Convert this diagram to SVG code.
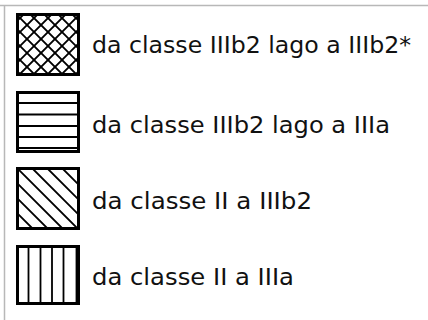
<svg xmlns="http://www.w3.org/2000/svg" width="428" height="320" viewBox="0 0 428 320">
<style>
.frame{stroke:#b8b8b8;stroke-width:1.5;fill:none}
.box{fill:none;stroke:#000;stroke-width:3}
.hatch{stroke:#000;stroke-width:1.8;fill:none}
.lbl{font-family:"DejaVu Sans",Verdana,sans-serif;font-size:22.5px;fill:#111}
</style>
<defs>
<clipPath id="c1"><rect x="17" y="14" width="62" height="61"/></clipPath>
<clipPath id="c3"><rect x="17" y="168" width="62" height="61"/></clipPath>
</defs>
<rect width="428" height="320" fill="#fff"/>
<g id="frame"><path class="frame" d="M0 5.5H428M4.5 5.5V320"/></g>
<g id="item1">
<g clip-path="url(#c1)" class="hatch">
<path d="M-40 14L21 75M-26 14L35 75M-12 14L49 75M2 14L63 75M16 14L77 75M30 14L91 75M44 14L105 75M58 14L119 75M72 14L133 75"/>
<path d="M136 14L75 75M122 14L61 75M108 14L47 75M94 14L33 75M80 14L19 75M66 14L5 75M52 14L-9 75M38 14L-23 75M24 14L-37 75"/>
</g>
<rect class="box" x="17.5" y="14.5" width="61" height="60"/>
<text class="lbl" x="92" y="53" textLength="319" lengthAdjust="spacingAndGlyphs">da classe IIIb2 lago a IIIb2*</text>
</g>
<g id="item2">
<path class="hatch" d="M17 103H79M17 114.5H79M17 126H79M17 137H79M17 148H79"/>
<rect class="box" x="17.5" y="92.5" width="61" height="59"/>
<text class="lbl" x="92" y="133" textLength="298" lengthAdjust="spacingAndGlyphs">da classe IIIb2 lago a IIIa</text>
</g>
<g id="item3">
<g clip-path="url(#c3)" class="hatch">
<path d="M-28 168L33 229M-13 168L48 229M2 168L63 229M17 168L78 229M32 168L93 229M47 168L108 229M62 168L123 229"/>
</g>
<rect class="box" x="17.5" y="168.5" width="61" height="60"/>
<text class="lbl" x="92" y="209" textLength="220" lengthAdjust="spacingAndGlyphs">da classe II a IIIb2</text>
</g>
<g id="item4">
<path class="hatch" d="M28.5 246V304M40.5 246V304M52 246V304M63.5 246V304M76.5 246V304"/>
<rect class="box" x="17.5" y="246.5" width="61" height="57"/>
<text class="lbl" x="92" y="285" textLength="202" lengthAdjust="spacingAndGlyphs">da classe II a IIIa</text>
</g>
</svg>
